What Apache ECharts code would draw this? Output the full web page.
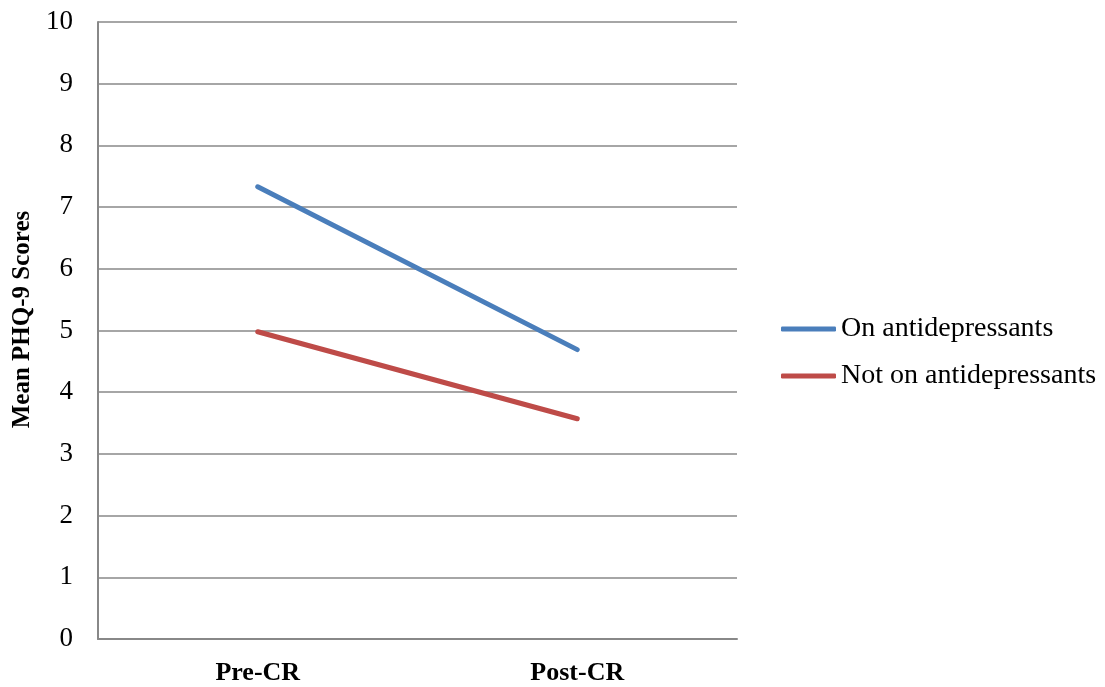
<!DOCTYPE html>
<html>
<head>
<meta charset="utf-8">
<script src="https://cdn.jsdelivr.net/npm/echarts@6/dist/echarts.min.js"></script>
<style>html,body{margin:0;padding:0;background:#fff}#c{width:1105px;height:687px}</style>
</head>
<body>
<div id="c"></div>
<script>
const categories = ['Pre-CR', 'Post-CR'];
const onAntidepressants = [7.33, 4.69];
const notOnAntidepressants = [4.98, 3.57];
const yTicks = [0, 1, 2, 3, 4, 5, 6, 7, 8, 9, 10];
const seriesNames = ['On antidepressants', 'Not on antidepressants'];

const font = '"Liberation Serif", "DejaVu Serif", serif';
const chart = echarts.init(document.getElementById('c'));
chart.setOption({
  animation: false,
  backgroundColor: '#fff',
  grid: { left: 98, right: 368, top: 22, bottom: 48, containLabel: false, outerBoundsMode: 'none' },
  legend: {
    orient: 'vertical',
    left: 776,
    top: 310,
    itemWidth: 55,
    itemHeight: 5,
    itemGap: 19,
    icon: 'roundRect',
    textStyle: { fontFamily: font, fontSize: 28, color: '#000' },
    data: seriesNames
  },
  xAxis: {
    type: 'category',
    data: categories,
    boundaryGap: true,
    axisLine: { lineStyle: { color: '#888', width: 2 } },
    axisTick: { show: false },
    axisLabel: { fontFamily: font, fontWeight: 'bold', fontSize: 26, color: '#000', margin: 21 }
  },
  yAxis: {
    type: 'value',
    min: yTicks[0],
    max: yTicks[yTicks.length - 1],
    interval: 1,
    name: 'Mean PHQ-9 Scores',
    nameLocation: 'middle',
    nameGap: 62,
    nameTextStyle: { fontFamily: font, fontWeight: 'bold', fontSize: 25, color: '#000', padding: [0, 0, 0, 22] },
    axisLine: { show: true, lineStyle: { color: '#888', width: 2 } },
    axisTick: { show: false },
    axisLabel: { fontFamily: font, fontSize: 27, color: '#000', margin: 25 },
    splitLine: { lineStyle: { color: '#888', width: 1.5 } }
  },
  series: [
    {
      name: seriesNames[0], type: 'line', data: onAntidepressants,
      symbol: 'none', lineStyle: { width: 5, color: '#4a7ebb', cap: 'round' }, itemStyle: { color: '#4a7ebb' }
    },
    {
      name: seriesNames[1], type: 'line', data: notOnAntidepressants,
      symbol: 'none', lineStyle: { width: 5, color: '#be4b48', cap: 'round' }, itemStyle: { color: '#be4b48' }
    }
  ]
});
</script>
</body>
</html>
